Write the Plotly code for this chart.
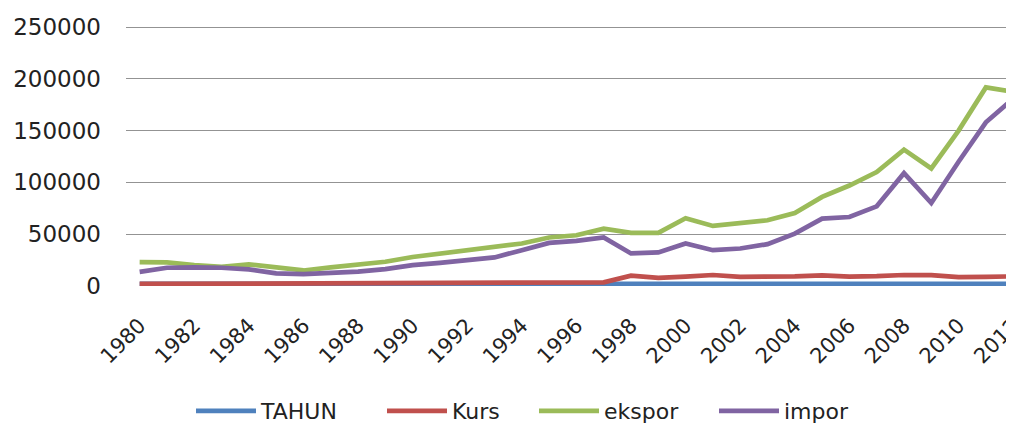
import plotly.graph_objects as go

years = [1980, 1981, 1982, 1983, 1984, 1985, 1986, 1987, 1988, 1989, 1990,
         1991, 1992, 1993, 1994, 1995, 1996, 1997, 1998, 1999, 2000, 2001,
         2002, 2003, 2004, 2005, 2006, 2007, 2008, 2009, 2010, 2011, 2012]

tahun = [1980, 1981, 1982, 1983, 1984, 1985, 1986, 1987, 1988, 1989, 1990,
         1991, 1992, 1993, 1994, 1995, 1996, 1997, 1998, 1999, 2000, 2001,
         2002, 2003, 2004, 2005, 2006, 2007, 2008, 2009, 2010, 2011, 2012]

kurs = [2000, 2050, 2100, 2200, 2300, 2400, 2500, 2600, 2700, 2800, 2900,
        3000, 3000, 3100, 3100, 3200, 3200, 3500, 10000, 7900, 9000, 10600,
        8800, 8500, 9200, 10200, 9000, 9500, 10600, 10500, 8600, 8800, 9300]

ekspor = [23000, 22800, 20200, 18600, 20900, 17600, 15000, 18000, 20200, 23400,
          28000, 31400, 34600, 37200, 41000, 46800, 49000, 55400, 51300, 51300,
          65400, 58000, 60500, 63500, 70500, 86000, 97000, 110000, 131700,
          113500, 150000, 191700, 187500]

impor = [13700, 17600, 18000, 17600, 16000, 12200, 11500, 12200, 13800, 16300,
         20200, 22400, 25000, 27600, 34600, 41600, 43600, 46800, 31400, 32400,
         41000, 34600, 36200, 40400, 50600, 65100, 66600, 76900, 108900, 80100,
         120000, 158000, 181000]

series = [("TAHUN", tahun, "#4F81BD", 116),
          ("Kurs", kurs, "#C0504D", 77),
          ("ekspor", ekspor, "#9BBB59", 105),
          ("impor", impor, "#8064A2", 80)]

fig = go.Figure()
for name, vals, col, lw in series:
    fig.add_trace(go.Scatter(x=years, y=vals, name=name, mode="lines",
                             legendwidth=lw,
                             line=dict(color=col, width=4.7)))

font_family = "DejaVu Sans"
fig.update_layout(
    width=1006, height=415,
    margin=dict(l=118, r=0, t=17.7, b=136.5, autoexpand=False),
    paper_bgcolor="white", plot_bgcolor="white",
    showlegend=True,
    legend=dict(orientation="h", x=(197 - 8 - 118 - 6) / 888, xanchor="left",
                y=-0.481, yanchor="middle",
                font=dict(family=font_family, size=22, color="#222"),
                itemwidth=60, traceorder="normal"),
    xaxis=dict(range=[1979.5, 2012.03], tick0=1980, dtick=2, tickangle=-45,
               showgrid=False, zeroline=False, showline=False, ticks="",
               ticklabelstandoff=22, ticklabeloverflow="allow",
               tickfont=dict(family=font_family, size=21, color="#222")),
    yaxis=dict(range=[0, 251000], tickvals=[0, 50000, 100000, 150000, 200000, 250000],
               showgrid=True,
               gridcolor="#939393", gridwidth=1.4, zeroline=False, showline=False,
               ticks="", tickformat="d", ticklabelstandoff=24,
               tickfont=dict(family=font_family, size=23, color="#222")),
)

fig.write_html("out.html")
